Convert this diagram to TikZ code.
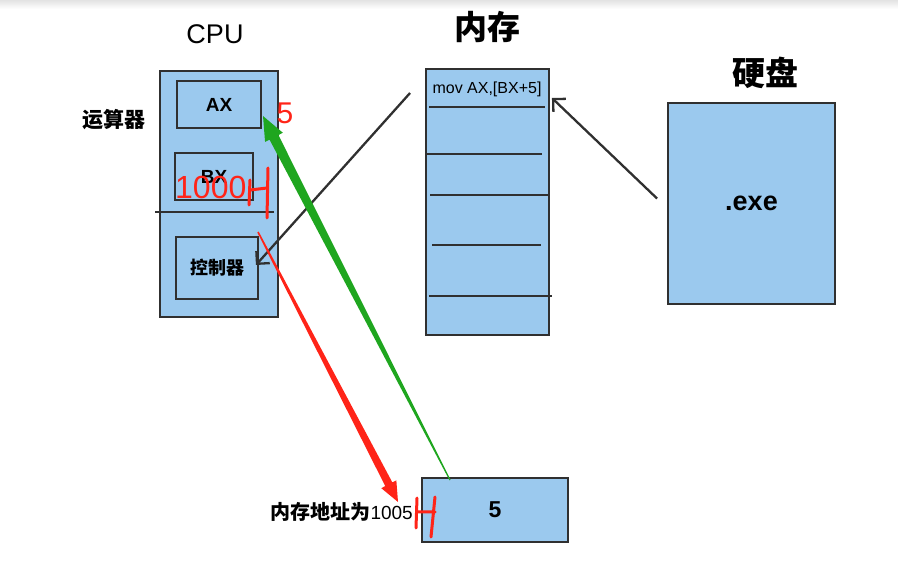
\documentclass[tikz,border=0pt]{standalone}
\usepackage{fontspec}
\usepackage{tikz}
\usetikzlibrary{calc,arrows.meta}
\setmainfont{Liberation Sans}
\newfontfamily\cjk{Noto Sans CJK SC}
\definecolor{boxblue}{HTML}{9BC9EE}
\definecolor{edge}{HTML}{303030}
\definecolor{penred}{HTML}{FF2418}
\definecolor{pengreen}{HTML}{1FA61F}
\newcommand{\fs}[1]{\fontsize{#1}{#1}\selectfont}
% tapered pen stroke: start, tip, half width at start, half width at head, head length, head half width
\newcommand{\penarrow}[7]{%
  \coordinate (pb) at ($(#2)!#5pt!(#1)$);
  \fill[#7] ($(#1)!#3pt!90:(#2)$) -- ($(pb)!#4pt!-90:(#1)$) -- ($(pb)!#6pt!-90:(#1)$)
    -- (#2) -- ($(pb)!#6pt!90:(#1)$) -- ($(pb)!#4pt!90:(#1)$) -- ($(#1)!#3pt!-90:(#2)$) -- cycle;}
\tikzset{
  box/.style={draw=edge,line width=1.9pt,fill=boxblue,inner sep=0pt},
  title/.style={font=\cjk\bfseries\fs{33}},
  lbl/.style={font=\bfseries\fs{19}},
  wire/.style={draw=edge,line width=2.3pt,-{Straight Barb[length=9pt,width=18pt,line width=2.3pt]}},
  pen/.style={penred,line width=3pt,line cap=round}
}
\begin{document}
\begin{tikzpicture}[x=1pt,y=-1pt]
  \useasboundingbox (0,0) rectangle (898,585);
  \shade[top color=gray!22,bottom color=white] (0,0) rectangle (898,9);

  %cpu
  \node[box,minimum width=118,minimum height=246] (cpu) at (219,194) {};
  \node[box,minimum width=84,minimum height=47,lbl] (ax) at (219,104.5) {AX};
  \node[box,minimum width=78,minimum height=47,lbl] (bx) at (214,176.5) {BX};
  \node[box,minimum width=82,minimum height=62,font=\cjk\bfseries\fs{18}] (ctrl) at (217,268) {控制器};
  \draw[edge,line width=1.9pt] (155,212) -- (274,212);
  \node[font=\fs{27}] (cputitle) at (215,34) {CPU};
  \node[font=\cjk\bfseries\fs{21}] (alu) at (114,120) {运算器};

  %memory
  \node[box,minimum width=123,minimum height=266] (mem) at (487.5,202) {};
  \foreach \xa/\xb/\y in {429/545/107, 426/542/154, 430/548/195, 432/541/245, 429/552/296}
    \draw[edge,line width=1.9pt] (\xa,\y) -- (\xb,\y);
  \node[font=\fs{16}] (instr) at (487,89) {mov AX,[BX+5]};
  \node[title] (memtitle) at (487,27) {内存};

  %disk
  \node[box,minimum width=167,minimum height=201,font=\bfseries\fs{27}] (disk) at (751.5,203.5) {.exe};
  \node[title] (disktitle) at (765,73) {硬盘};

  %cell at 1005
  \node[box,minimum width=146,minimum height=64,font=\bfseries\fs{23}] (cell) at (495,510) {5};
  \node[anchor=east,inner sep=0pt] (addr) at (413,512) {{\cjk\bfseries\fs{20}内存地址为}{\fs{19}1005}};

  %load and fetch
  \coordinate (diskout) at ($(disk.west)+(-10,-5)$);
  \coordinate (memin) at ($(mem.east)+(2,-104)$);
  \draw[wire] (diskout) -- (memin);
  \coordinate (memout) at ($(mem.west)+(-15,-109)$);
  \coordinate (ctrlin) at ($(ctrl.east)+(-3,-3)$);
  \draw[wire] (memout) -- (ctrlin);

  %pen notes
  \coordinate (rs) at (258,232);
  \coordinate (rt) at (398,502);
  \penarrow{rs}{rt}{0.8}{4}{20}{8.5}{penred}
  \coordinate (gs) at (450,480);
  \coordinate (gt) at (263,116);
  \penarrow{gs}{gt}{0.6}{5}{24}{10}{pengreen}
  \node[penred,font=\fs{30}] (five) at (285,113) {5};
  \node[penred,font=\fs{32},anchor=west,inner sep=0pt] (bxval) at (175,187) {1000};
  \draw[pen] (250,180) -- (249,205) (250,190) -- (267,188) (268,168) -- (267,218);
  \draw[pen] (417,498) -- (416,528) (417,512) -- (435,512) (435,497) -- (431,537);
\end{tikzpicture}
\end{document}
